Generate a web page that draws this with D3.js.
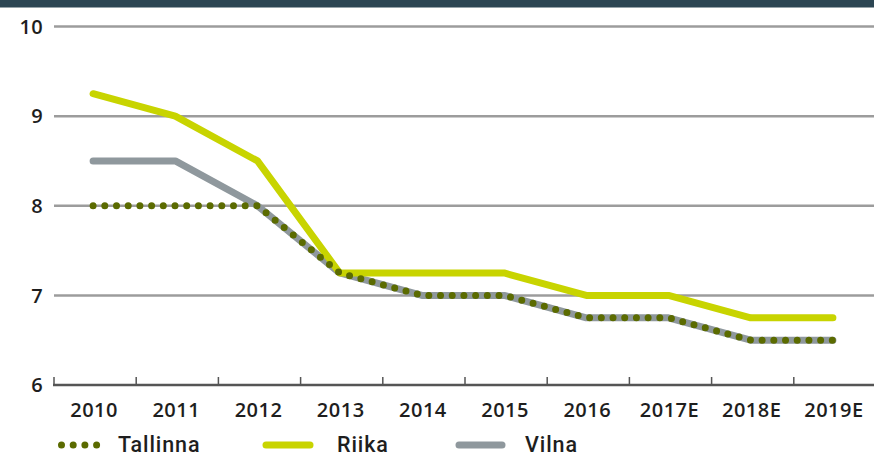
<!DOCTYPE html>
<html>
<head>
<meta charset="utf-8">
<script src="https://cdn.jsdelivr.net/npm/d3@7"></script>
<style>
  html, body { margin: 0; padding: 0; background: #fff; }
  svg { display: block; }
</style>
</head>
<body>
<svg id="chart" width="874" height="470"></svg>
<script>
const categories = ["2010", "2011", "2012", "2013", "2014", "2015", "2016", "2017E", "2018E", "2019E"];
const tallinna = [8.0, 8.0, 8.0, 7.25, 7.0, 7.0, 6.75, 6.75, 6.5, 6.5];
const riika    = [9.25, 9.0, 8.5, 7.25, 7.25, 7.25, 7.0, 7.0, 6.75, 6.75];
const vilna    = [8.5, 8.5, 8.0, 7.25, 7.0, 7.0, 6.75, 6.75, 6.5, 6.5];
const yTicks = [6, 7, 8, 9, 10];
const legendLabels = ["Tallinna", "Riika", "Vilna"];

const svg = d3.select("#chart");
const W = 874, H = 470;
const colors = { riika: "#c8d400", vilna: "#8f989d", tallinna: "#5b6b00" };

// header band
svg.append("rect").attr("x", 0).attr("y", 0).attr("width", W).attr("height", 7.5).attr("fill", "#2c4653");

const x = d3.scaleBand().domain(categories).range([53, 875]);
const y = d3.scaleLinear().domain([6, 10]).range([385, 26.5]);

// gridlines
svg.append("g").selectAll("line").data(yTicks.filter(d => d > 6)).join("line")
  .attr("x1", 54).attr("x2", W)
  .attr("y1", d => y(d)).attr("y2", d => y(d))
  .attr("stroke", "#9c9c9c").attr("stroke-width", 2.5);

const labelFont = "'Open Sans', sans-serif";

// y labels
svg.append("g").selectAll("text").data(yTicks).join("text")
  .attr("x", 43).attr("y", d => y(d))
  .attr("dy", "0.36em")
  .attr("text-anchor", "end")
  .attr("font-family", labelFont)
  .attr("font-weight", 600)
  .attr("font-size", 20)
  .attr("letter-spacing", 0.3)
  .attr("fill", "#1e1e1e")
  .text(d => d);

// x axis
const xAxis = d3.axisBottom(x).tickSize(0).tickPadding(0);
const gx = svg.append("g").attr("transform", `translate(0,${y(6)})`).call(xAxis);
gx.select(".domain").remove();
gx.selectAll("text")
  .attr("y", 32)
  .attr("dy", "0")
  .attr("font-family", labelFont)
  .attr("font-weight", 600)
  .attr("font-size", 20)
  .attr("letter-spacing", 0.5)
  .attr("fill", "#1e1e1e");

svg.append("line").attr("x1", 53).attr("x2", W).attr("y1", y(6)).attr("y2", y(6))
  .attr("stroke", "#555").attr("stroke-width", 2.5);
svg.append("g").selectAll("line").data(categories).join("line")
  .attr("x1", d => x(d) + 1).attr("x2", d => x(d) + 1)
  .attr("y1", y(6)).attr("y2", y(6) - 8)
  .attr("stroke", "#555").attr("stroke-width", 1.5);

// lines
const line = d3.line()
  .x((d, i) => x(categories[i]) + x.bandwidth() / 2 - 1)
  .y(d => y(d));

svg.append("path").datum(vilna).attr("d", line)
  .attr("fill", "none").attr("stroke", colors.vilna).attr("stroke-width", 7)
  .attr("stroke-linecap", "round").attr("stroke-linejoin", "round");
svg.append("path").datum(riika).attr("d", line)
  .attr("fill", "none").attr("stroke", colors.riika).attr("stroke-width", 7)
  .attr("stroke-linecap", "round").attr("stroke-linejoin", "round");
svg.append("path").datum(tallinna).attr("d", line)
  .attr("fill", "none").attr("stroke", colors.tallinna).attr("stroke-width", 7)
  .attr("stroke-dasharray", "0,11.7")
  .attr("stroke-linecap", "round").attr("stroke-linejoin", "round");

// legend
const lg = svg.append("g");
const ly = 445;
lg.append("line").attr("x1", 61.5).attr("x2", 97).attr("y1", ly).attr("y2", ly)
  .attr("stroke", colors.tallinna).attr("stroke-width", 7)
  .attr("stroke-dasharray", "0,11.7").attr("stroke-linecap", "round");
lg.append("line").attr("x1", 266).attr("x2", 310).attr("y1", ly).attr("y2", ly)
  .attr("stroke", colors.riika).attr("stroke-width", 7).attr("stroke-linecap", "round");
lg.append("line").attr("x1", 459).attr("x2", 502).attr("y1", ly).attr("y2", ly)
  .attr("stroke", colors.vilna).attr("stroke-width", 7).attr("stroke-linecap", "round");

const legendX = [118, 337, 525];
lg.selectAll("text").data(legendLabels).join("text")
  .attr("x", (d, i) => legendX[i]).attr("y", 452)
  .attr("font-family", "Roboto")
  .attr("font-weight", 500)
  .attr("font-size", 21.5)
  .attr("letter-spacing", 0.9)
  .attr("fill", "#1e1e1e")
  .text(d => d);
</script>
</body>
</html>
